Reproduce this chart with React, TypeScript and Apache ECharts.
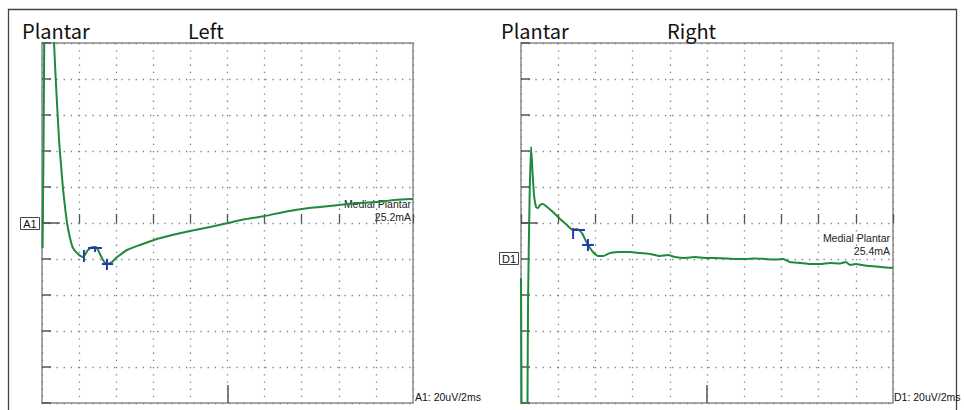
import React, { useEffect, useRef } from "react";
import * as echarts from "echarts";

// Time base 2 ms/div, sensitivity 20 uV/div, 10 x 10 divisions
const xRange = [0, 20];
const yRange = [-100, 100];
const xStep = 2;
const yStep = 20;

const panelTitles = ["Left", "Right"];
const channelNames = ["A1", "D1"];
const nerveLabel = "Medial Plantar";
const stimIntensity = ["25.2mA", "25.4mA"];
const scaleLabels = ["A1: 20uV/2ms", "D1: 20uV/2ms"];

// Left trace (ms, uV)
const leftTime = [0.03, 0.08, 0.12, 0.2, 0.35, 0.5, 0.65, 0.75, 0.92, 1.02, 1.13, 1.35, 1.51, 1.67, 1.94, 2.21, 2.48, 2.75, 2.91, 3.07, 3.29, 3.5, 3.77, 3.99, 4.2, 4.58, 5.28, 6.04, 7.01, 7.98, 9.06, 10.03, 11.0, 12.02, 13.05, 14.02, 14.99, 16.01, 17.04, 18.06, 19.03, 20];
const leftAmp = [-14, 40, 100, 170, 200, 150, 100, 78, 46, 33, 19.4, 0, -8.3, -13.9, -17.2, -18.9, -15.0, -13.3, -13.3, -16.1, -20.6, -22.8, -21.7, -19.4, -17.8, -15.0, -12.2, -9.4, -6.7, -4.4, -2.2, 0, 2.2, 3.9, 6.1, 7.8, 8.9, 10.0, 11.1, 11.7, 12.8, 13.3];

// Right trace (ms, uV)
const rightTime = [0, 0.03, 0.06, 0.2, 0.33, 0.35, 0.38, 0.46, 0.54, 0.62, 0.7, 0.81, 0.91, 1.02, 1.18, 1.4, 1.72, 2.1, 2.42, 2.8, 3.01, 3.28, 3.49, 3.71, 3.92, 4.14, 4.41, 4.78, 5.32, 5.86, 6.4, 6.94, 7.47, 7.9, 8.28, 8.82, 9.35, 9.89, 10.43, 10.97, 11.51, 12.04, 12.58, 13.12, 13.66, 14.09, 14.46, 15.0, 15.54, 16.08, 16.61, 17.15, 17.47, 17.69, 18.01, 18.33, 18.76, 19.3, 20];
const rightAmp = [-30.6, -100, -140, -170, -140, -100, -42.8, 12.8, 42.2, 28.3, 15.6, 8.9, 8.3, 10.0, 10.6, 8.9, 6.1, 2.2, -0.6, -3.9, -3.3, -5.6, -10.0, -13.9, -16.7, -18.3, -18.3, -16.7, -16.1, -16.1, -16.7, -17.2, -18.3, -17.8, -18.9, -19.4, -18.9, -19.4, -19.4, -19.7, -20, -20, -19.7, -20, -20.3, -20, -21.7, -22.2, -22.8, -22.8, -22.2, -22.5, -21.7, -23.3, -22.8, -23.3, -23.9, -24.4, -25];

// Cursor marks (segments: x1, y1, x2, y2) per panel
const leftCursors = [
  [2.26, -15.0, 2.26, -21.7],
  [2.48, -13.9, 3.23, -13.9],
  [2.86, -13.9, 2.86, -16.1],
  [3.23, -22.8, 3.83, -22.8],
  [3.5, -20.0, 3.5, -26.1],
];
const rightCursors = [
  [2.8, -2.8, 2.8, -8.9],
  [2.8, -3.9, 3.44, -3.9],
  [3.28, -12.2, 3.92, -12.2],
  [3.6, -8.9, 3.6, -15.6],
];
const baselineTickEnd = [0.97, 0.91];

const GREEN = "#1f8a3b";
const BLUE = "#2a35b5";
const TICK = "#555";

function zip(xs: number[], ys: number[]) {
  return xs.map((x, i) => [x, ys[i]]);
}

export default function App() {
  const ref = useRef<HTMLDivElement>(null);
  useEffect(() => {
    if (!ref.current) return;
    const chart = echarts.init(ref.current, undefined, { renderer: "svg" });
    const grids = [
      { left: 42, top: 43, width: 371, height: 360 },
      { left: 521, top: 43, width: 372, height: 360 },
    ];
    const xAxes = grids.map((_, i) => ({
      type: "value",
      gridIndex: i,
      min: xRange[0],
      max: xRange[1],
      interval: xStep,
      axisLabel: { show: false },
      axisLine: { show: false },
      axisTick: { show: true, inside: true, length: 9, lineStyle: { color: TICK, width: 1.3 } },
      splitLine: { show: true, lineStyle: { color: "#808080", width: 1.3, type: [1.3, 5.9] } },
    }));
    const yAxes = grids.map((_, i) => ({
      type: "value",
      gridIndex: i,
      min: yRange[0],
      max: yRange[1],
      interval: yStep,
      axisLabel: { show: false },
      axisLine: { show: false },
      axisTick: { show: true, inside: true, length: 9, lineStyle: { color: TICK, width: 1.5 } },
      splitLine: { show: true, lineStyle: { color: "#808080", width: 1.3, type: [1.3, 5.9] } },
    }));
    const decoMarkLine = (i: number) => ({
      silent: true,
      symbol: "none",
      label: { show: false },
      lineStyle: { color: TICK, width: 1.5, type: "solid" },
      data: [
        [{ coord: [xRange[0], 0] }, { coord: [baselineTickEnd[i], 0] }],
        [{ coord: [10, yRange[0]] }, { coord: [10, yRange[0] + 10] }],
      ],
    });
    const traces = [zip(leftTime, leftAmp), zip(rightTime, rightAmp)];
    const series: any[] = traces.map((d, i) => ({
      type: "line",
      xAxisIndex: i,
      yAxisIndex: i,
      data: d,
      showSymbol: false,
      smooth: 0.2,
      clip: true,
      lineStyle: { color: GREEN, width: 2 },
      z: 3,
      markLine: decoMarkLine(i),
    }));
    [leftCursors, rightCursors].forEach((segs, i) => {
      segs.forEach((s) => {
        series.push({
          type: "line",
          xAxisIndex: i,
          yAxisIndex: i,
          data: [[s[0], s[1]], [s[2], s[3]]],
          showSymbol: false,
          lineStyle: { color: BLUE, width: 2 },
          z: 4,
        });
      });
    });

    const titleFont = '20px "Noto Sans CJK JP", "Noto Sans", sans-serif';
    const smallFont = '10.5px "Liberation Sans", Arial, sans-serif';
    const graphic: any[] = [
      { type: "rect", shape: { x: 8.5, y: 9.5, width: 948, height: 420 }, style: { fill: "none", stroke: "#444", lineWidth: 1.3 }, silent: true },
      { type: "text", x: 22, y: 30, style: { text: "Plantar", font: titleFont, fill: "#111", textVerticalAlign: "middle" } },
      { type: "text", x: 188, y: 30, style: { text: panelTitles[0], font: titleFont, fill: "#111", textVerticalAlign: "middle" } },
      { type: "text", x: 501, y: 30, style: { text: "Plantar", font: titleFont, fill: "#111", textVerticalAlign: "middle" } },
      { type: "text", x: 667, y: 30, style: { text: panelTitles[1], font: titleFont, fill: "#111", textVerticalAlign: "middle" } },
      { type: "rect", shape: { x: 20.5, y: 217.5, width: 19, height: 12 }, style: { fill: "#fff", stroke: "#444", lineWidth: 1 } },
      { type: "text", x: 30, y: 224, style: { text: channelNames[0], font: '11px "Liberation Sans", Arial, sans-serif', fill: "#111", textAlign: "center", textVerticalAlign: "middle" } },
      { type: "rect", shape: { x: 499.5, y: 252.5, width: 19, height: 12 }, style: { fill: "#fff", stroke: "#444", lineWidth: 1 } },
      { type: "text", x: 509, y: 259, style: { text: channelNames[1], font: '11px "Liberation Sans", Arial, sans-serif', fill: "#111", textAlign: "center", textVerticalAlign: "middle" } },
      { type: "text", x: 411, y: 204, style: { text: nerveLabel, font: smallFont, fill: "#222", textAlign: "right", textVerticalAlign: "middle" } },
      { type: "text", x: 411, y: 217, style: { text: stimIntensity[0], font: smallFont, fill: "#222", textAlign: "right", textVerticalAlign: "middle" } },
      { type: "text", x: 890, y: 238, style: { text: nerveLabel, font: smallFont, fill: "#222", textAlign: "right", textVerticalAlign: "middle" } },
      { type: "text", x: 890, y: 251, style: { text: stimIntensity[1], font: smallFont, fill: "#222", textAlign: "right", textVerticalAlign: "middle" } },
      { type: "text", x: 415, y: 397, style: { text: scaleLabels[0], font: '10.5px "Liberation Sans", Arial, sans-serif', fill: "#111", textVerticalAlign: "middle" } },
      { type: "text", x: 894, y: 397, style: { text: scaleLabels[1], font: '10.5px "Liberation Sans", Arial, sans-serif', fill: "#111", textVerticalAlign: "middle" } },
    ];

    chart.setOption({
      animation: false,
      backgroundColor: "#fff",
      grid: grids.map((g) => ({ ...g, show: true, borderColor: "#8a8a8a", borderWidth: 1.5, backgroundColor: "transparent" })),
      xAxis: xAxes,
      yAxis: yAxes,
      series,
      graphic,
    });
    return () => chart.dispose();
  }, []);
  return (
    <div
      ref={ref}
      style={{ position: "absolute", left: 0, top: 0, width: 964, height: 410, background: "#fff" }}
    />
  );
}
